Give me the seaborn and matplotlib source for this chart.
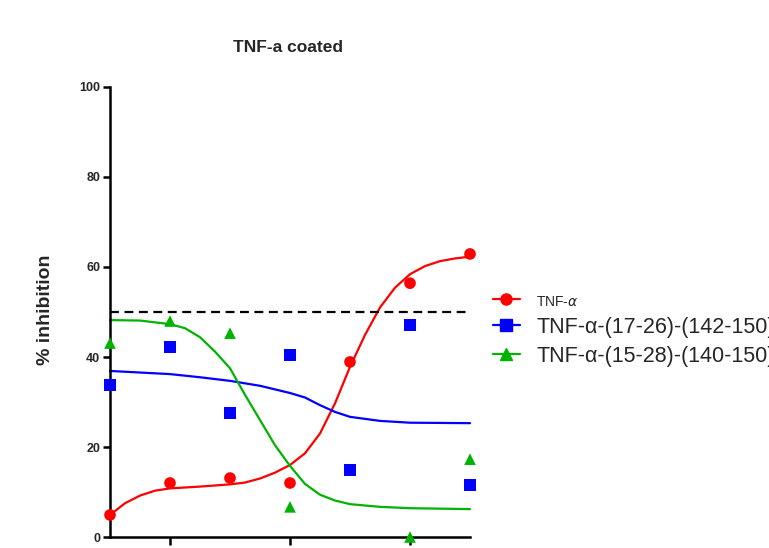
import matplotlib
matplotlib.use("Agg")
import matplotlib.pyplot as plt
from matplotlib.lines import Line2D
import pandas as pd
import seaborn as sns

# points mesurés (position de concentration 0..6)
x_pts = [0, 1, 2, 3, 4, 5, 6]
tnf = [4.9, 12.0, 13.1, 12.0, 38.9, 56.4, 62.9]
pep_17 = [33.8, 42.2, 27.6, 40.4, 14.9, 47.1, 11.6]
x_pep15 = [0, 1, 2, 3, 5, 6]
pep_15 = [43.1, 48.0, 45.3, 6.7, 0.0, 17.3]

# courbes ajustées
x_fit_tnf = [0, 0.25, 0.5, 0.75, 1, 1.5, 2, 2.25, 2.5, 2.75, 3, 3.25, 3.5, 3.75, 4,
             4.25, 4.5, 4.75, 5, 5.25, 5.5, 5.75, 6]
fit_tnf = [4.9, 7.5, 9.2, 10.3, 10.8, 11.2, 11.7, 12.1, 13.0, 14.3, 16.0, 18.6, 23.0,
           29.7, 37.8, 44.9, 51.0, 55.4, 58.4, 60.2, 61.3, 61.9, 62.3]
x_fit_17 = [0, 1, 1.5, 2, 2.5, 2.75, 3, 3.25, 3.5, 3.75, 4, 4.5, 5, 6]
fit_17 = [36.9, 36.2, 35.5, 34.7, 33.6, 32.8, 32.0, 31.0, 29.3, 27.8, 26.7, 25.8, 25.4, 25.3]
x_fit_15 = [0, 0.5, 1, 1.25, 1.5, 1.75, 2, 2.25, 2.5, 2.75, 3, 3.25, 3.5, 3.75, 4,
            4.5, 5, 6]
fit_15 = [48.2, 48.1, 47.3, 46.4, 44.4, 41.2, 37.5, 31.6, 26.0, 20.4, 15.8, 11.8, 9.4,
          8.1, 7.3, 6.7, 6.4, 6.2]

labels = ["TNF-$\\alpha$", "TNF-α-(17-26)-(142-150)", "TNF-α-(15-28)-(140-150)"]
couleurs = ["#FF0000", "#0000FF", "#00B300"]
marqueurs = ["o", "s", "^"]

sns.set_style("ticks")
plt.rcParams["font.family"] = ["Liberation Sans", "DejaVu Sans"]

fig = plt.figure(figsize=(7.69, 5.48), dpi=100)
ax = fig.add_axes([110 / 769, 11 / 548, 360 / 769, 450 / 548])

series_pts = [(x_pts, tnf), (x_pts, pep_17), (x_pep15, pep_15)]
series_fit = [(x_fit_tnf, fit_tnf), (x_fit_17, fit_17), (x_fit_15, fit_15)]

for (xf, yf), c in zip(series_fit, couleurs):
    sns.lineplot(x=xf, y=yf, color=c, linewidth=1.6, ax=ax, clip_on=False)

for (xp, yp), c, m in zip(series_pts, couleurs, marqueurs):
    df = pd.DataFrame({"x": xp, "y": yp})
    sns.scatterplot(data=df, x="x", y="y", color=c, marker=m, s=70,
                    edgecolor="none", ax=ax, clip_on=False, zorder=5)

ax.axhline(50, color="black", linestyle=(0, (4, 2.5)), linewidth=1.6)

ax.set_xlim(0, 6)
ax.set_ylim(0, 100)
ax.set_xticks([1, 3, 5])
ax.set_xticklabels([])
ax.set_yticks([0, 20, 40, 60, 80, 100])
ax.set_xlabel("")
ax.set_ylabel("")
for lab in ax.get_yticklabels():
    lab.set_fontweight("bold")
    lab.set_fontsize(9)
ax.tick_params(axis="both", width=1.8, length=5, pad=2, color="black")
ax.tick_params(axis="x", length=6)
for s in ["left", "bottom"]:
    ax.spines[s].set_linewidth(1.8)
    ax.spines[s].set_color("black")
sns.despine(ax=ax)

fig.text(288 / 769, 1 - 48 / 548, "TNF-a coated", ha="center", va="center",
         fontsize=12.5, fontweight="bold")
fig.text(45 / 769, 1 - 310 / 548, "% inhibition", ha="center", va="center",
         rotation=90, fontsize=14, fontweight="bold")

handles = [Line2D([0], [0], color=c, marker=m, markersize=8, linewidth=1.6)
           for c, m in zip(couleurs, marqueurs)]
leg = fig.legend(handles, labels, loc="upper left",
                 bbox_to_anchor=(493 / 769, 1 - 291 / 548), frameon=False,
                 fontsize=15.5, handlelength=1.25, handletextpad=0.75,
                 labelspacing=0.36, borderpad=0, borderaxespad=0)
leg.get_texts()[0].set_fontsize(10)

plt.savefig("out.png", dpi=100)
